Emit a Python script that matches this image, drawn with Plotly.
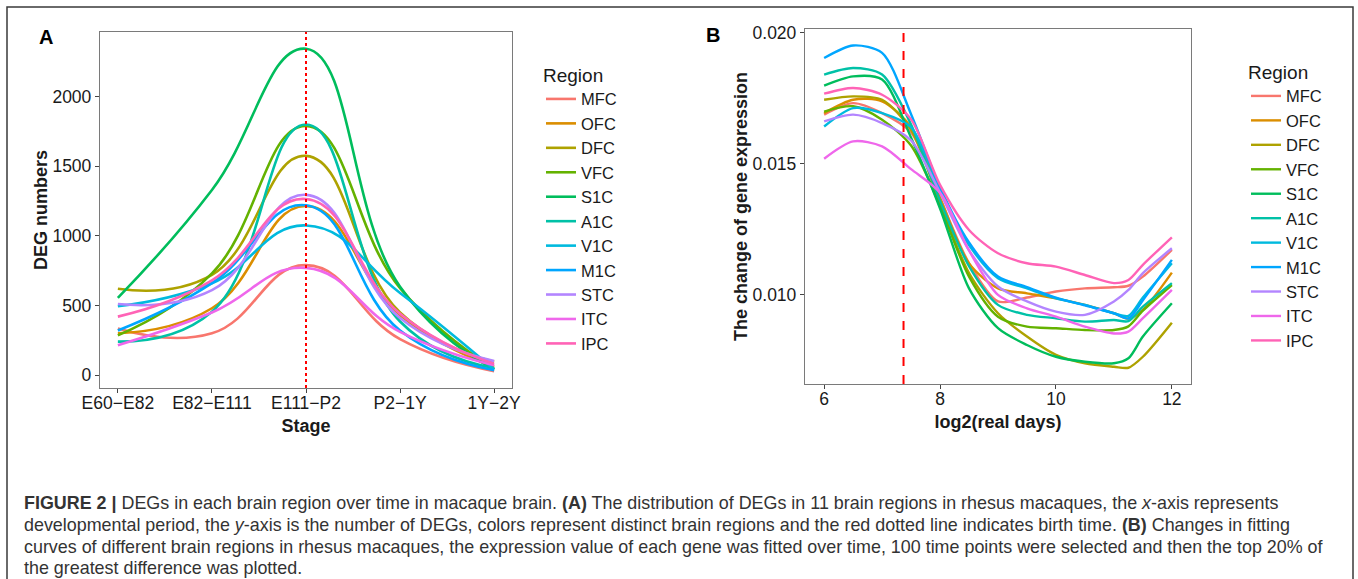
import plotly.graph_objects as go

W, H = 1358, 579

regions = ["MFC", "OFC", "DFC", "VFC", "S1C", "A1C", "V1C", "M1C", "STC", "ITC", "IPC"]
colors = ["#F8766D", "#DB8E00", "#AEA200", "#64B200", "#00BD5C", "#00C1A7",
          "#00BADE", "#00A6FF", "#B385FF", "#EF67EB", "#FF63B6"]

# Panel A: DEG numbers per stage
stages = ["E60\u2212E82", "E82\u2212E111", "E111\u2212P2", "P2\u22121Y", "1Y\u22122Y"]
deg_MFC = [335, 300, 790, 258, 28]
deg_OFC = [300, 480, 1215, 430, 60]
deg_DFC = [620, 720, 1575, 450, 95]
deg_VFC = [285, 730, 1790, 625, 45]
deg_S1C = [555, 1330, 2345, 635, 40]
deg_A1C = [240, 455, 1800, 385, 50]
deg_V1C = [495, 660, 1075, 590, 40]
deg_M1C = [320, 660, 1220, 320, 35]
deg_STC = [510, 610, 1295, 410, 100]
deg_ITC = [215, 450, 770, 310, 70]
deg_IPC = [420, 680, 1265, 440, 80]
deg = [deg_MFC, deg_OFC, deg_DFC, deg_VFC, deg_S1C, deg_A1C, deg_V1C, deg_M1C, deg_STC, deg_ITC, deg_IPC]
birth_stage = "E111\u2212P2"

# Panel B: change of gene expression vs log2(real days)
log2_days = [6, 6.5, 7, 7.5, 8, 8.5, 9, 9.5, 10, 10.5, 11, 11.25, 11.5, 12]
chg_MFC = [0.01688, 0.01732, 0.01694, 0.0162, 0.0137, 0.01121, 0.00975, 0.00990, 0.01013, 0.01025, 0.01029, 0.01035, 0.0107, 0.01172]
chg_OFC = [0.01694, 0.01745, 0.01739, 0.0164, 0.0137, 0.0112, 0.01025, 0.01006, 0.00987, 0.00962, 0.0093, 0.0091, 0.00943, 0.01085]
chg_DFC = [0.01745, 0.01758, 0.01745, 0.0163, 0.0135, 0.01083, 0.0093, 0.00841, 0.00771, 0.00739, 0.00726, 0.00722, 0.00764, 0.00894]
chg_VFC = [0.0170, 0.0172, 0.01669, 0.0157, 0.0134, 0.0107, 0.00917, 0.00879, 0.00873, 0.00866, 0.00866, 0.0088, 0.0094, 0.01038]
chg_S1C = [0.01799, 0.01834, 0.01822, 0.0160, 0.0133, 0.01025, 0.00873, 0.00809, 0.00764, 0.00745, 0.00739, 0.00758, 0.00841, 0.00968]
chg_A1C = [0.01841, 0.01866, 0.01841, 0.0165, 0.0136, 0.0111, 0.00962, 0.00924, 0.00911, 0.00898, 0.00904, 0.0090, 0.00955, 0.01045]
chg_V1C = [0.01643, 0.01713, 0.01694, 0.0164, 0.0140, 0.0119, 0.01064, 0.01025, 0.00987, 0.00962, 0.0093, 0.0092, 0.0099, 0.01121]
chg_M1C = [0.01904, 0.01952, 0.01924, 0.0169, 0.0141, 0.0120, 0.0107, 0.0103, 0.0099, 0.0096, 0.0093, 0.0091, 0.0098, 0.01134]
chg_STC = [0.01662, 0.01688, 0.01656, 0.0159, 0.0139, 0.0117, 0.01032, 0.00975, 0.00936, 0.00924, 0.00975, 0.01019, 0.01083, 0.01178]
chg_ITC = [0.0152, 0.01586, 0.01567, 0.0148, 0.0139, 0.0117, 0.0100, 0.00949, 0.00917, 0.00879, 0.00853, 0.0086, 0.00911, 0.01019]
chg_IPC = [0.01768, 0.0179, 0.01764, 0.0167, 0.0142, 0.01248, 0.01159, 0.01121, 0.01108, 0.01076, 0.01045, 0.01057, 0.01115, 0.0122]
chg = [chg_MFC, chg_OFC, chg_DFC, chg_VFC, chg_S1C, chg_A1C, chg_V1C, chg_M1C, chg_STC, chg_ITC, chg_IPC]
birth_log2 = 7.37

caption = [
    "<b>FIGURE 2 |</b> DEGs in each brain region over time in macaque brain. <b>(A)</b> The distribution of DEGs in 11 brain regions in rhesus macaques, the <i>x</i>-axis represents",
    "developmental period, the <i>y</i>-axis is the number of DEGs, colors represent distinct brain regions and the red dotted line indicates birth time. <b>(B)</b> Changes in fitting",
    "curves of different brain regions in rhesus macaques, the expression value of each gene was fitted over time, 100 time points were selected and then the top 20% of",
    "the greatest difference was plotted.",
]

FONT = "Liberation Sans, Arial, sans-serif"


def px_x(p):
    return p / W


def px_y(p):
    return 1 - p / H


fig = go.Figure()

for i, r in enumerate(regions):
    fig.add_trace(go.Scatter(
        x=stages, y=deg[i], mode="lines", name=r,
        line=dict(color=colors[i], width=2.6, shape="spline", smoothing=1.3),
        xaxis="x", yaxis="y", legend="legend",
    ))
for i, r in enumerate(regions):
    fig.add_trace(go.Scatter(
        x=log2_days, y=chg[i], mode="lines", name=r,
        line=dict(color=colors[i], width=2.4, shape="spline", smoothing=0.8),
        xaxis="x2", yaxis="y2", legend="legend2",
    ))

axis_common = dict(
    showgrid=False, zeroline=False, showline=True, mirror=True, automargin=False,
    linecolor="#7a7a7a", linewidth=1.3, ticks="outside", ticklen=4,
    tickcolor="#444444", tickfont=dict(size=17.5, color="#1a1a1a", family=FONT),
)
title_font = dict(size=18, color="#1a1a1a")

fig.update_layout(
    width=W, height=H,
    margin=dict(l=0, r=0, t=0, b=0, autoexpand=False),
    paper_bgcolor="white", plot_bgcolor="white",
    font=dict(family=FONT, color="#1a1a1a"),
    showlegend=True,
    xaxis=dict(domain=[px_x(100), px_x(512)], anchor="y",
               type="category", range=[-0.19, 4.19], ticklabelstandoff=-5,
               title=dict(text="<b>Stage</b>", font=title_font, standoff=7),
               **axis_common),
    yaxis=dict(domain=[px_y(388), px_y(32)], anchor="x",
               range=[-93, 2465], tickvals=[0, 500, 1000, 1500, 2000],
               title=dict(text="<b>DEG numbers</b>", font=title_font, standoff=0),
               **axis_common),
    xaxis2=dict(domain=[px_x(805), px_x(1191)], anchor="y2",
                range=[5.67, 12.33], tickvals=[6, 8, 10, 12], ticklabelstandoff=-5,
                title=dict(text="<b>log2(real days)</b>", font=title_font, standoff=7),
                **axis_common),
    yaxis2=dict(domain=[px_y(384), px_y(29)], anchor="x2",
                range=[0.0066, 0.02015], tickvals=[0.010, 0.015, 0.020],
                tickformat=".3f",
                title=dict(text="<b>The change of gene expression</b>", font=title_font, standoff=0),
                **axis_common),
    legend=dict(x=px_x(541), y=px_y(57), xanchor="left", yanchor="top",
                title=dict(text="Region", font=dict(size=19)),
                font=dict(size=16.5), tracegroupgap=0, itemwidth=30,
                bgcolor="rgba(0,0,0,0)"),
    legend2=dict(x=px_x(1246), y=px_y(54), xanchor="left", yanchor="top",
                 title=dict(text="Region", font=dict(size=19)),
                 font=dict(size=16.5), tracegroupgap=0, itemwidth=30,
                 bgcolor="rgba(0,0,0,0)"),
)

# birth-time reference lines
fig.add_shape(type="line", xref="x", yref="y domain", x0=birth_stage, x1=birth_stage,
              y0=0, y1=1, line=dict(color="#FF0000", width=2, dash="dot"))
fig.add_shape(type="line", xref="x2", yref="y2 domain", x0=birth_log2, x1=birth_log2,
              y0=0, y1=1, line=dict(color="#FF0000", width=2, dash="dash"))

# outer frame
fig.add_shape(type="rect", xref="paper", yref="paper",
              x0=px_x(7), x1=px_x(1353), y0=-0.2, y1=px_y(7),
              line=dict(color="#3a3a3a", width=1.5), layer="below")

# panel letters
fig.add_annotation(text="<b>A</b>", x=px_x(37), y=px_y(37), xref="paper", yref="paper",
                   showarrow=False, xanchor="left", yanchor="middle",
                   font=dict(size=20, color="black"))
fig.add_annotation(text="<b>B</b>", x=px_x(704), y=px_y(35), xref="paper", yref="paper",
                   showarrow=False, xanchor="left", yanchor="middle",
                   font=dict(size=20, color="black"))

# caption
cap_y = [503, 525, 547, 568]
for line, yy in zip(caption, cap_y):
    fig.add_annotation(text=line, x=px_x(22), y=px_y(yy), xref="paper", yref="paper",
                       showarrow=False, xanchor="left", yanchor="middle",
                       font=dict(size=17.9, color="#333333", family=FONT))

fig.write_html("out.html", config={"displayModeBar": False},
               post_script="document.body.style.margin='0';document.body.style.overflow='hidden';")
